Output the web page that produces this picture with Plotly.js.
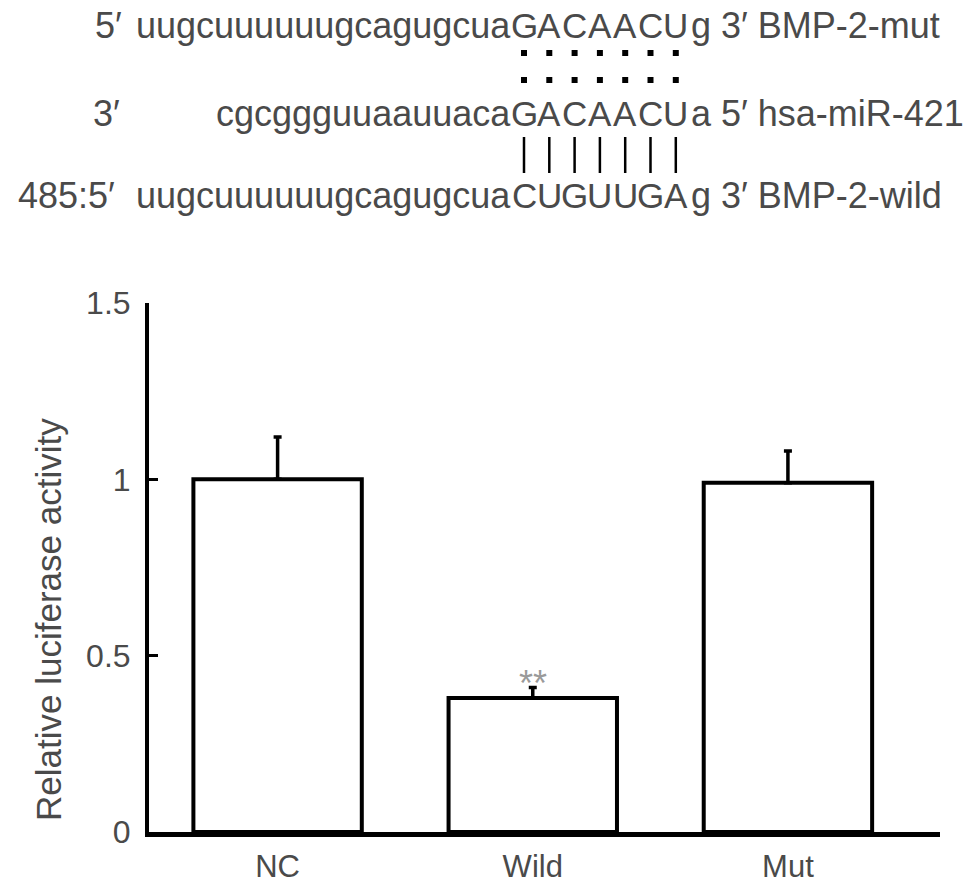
<!DOCTYPE html>
<html>
<head>
<meta charset="utf-8">
<script src="https://cdn.plot.ly/plotly-3.0.1.min.js"></script>
<style>html,body{margin:0;padding:0;background:#fff;}#chart{width:969px;height:893px;}</style>
</head>
<body>
<div id="chart"></div>
<script>
// ---- data ----
const categories = ['NC', 'Wild', 'Mut'];
const values = [1.0, 0.38, 0.99];
const errors = [0.12, 0.03, 0.09];
const yTickVals = [0, 0.5, 1, 1.5];
const yTickText = ['0', '0.5', '1', '1.5'];
const sigLabels = ['', '**', ''];
const yTitle = 'Relative luciferase activity';

// sequence rows: prefix label, left part, aligned core letters, right part
const rowPrefix = ['5′', '3′', '485:5′'];
const rowLeft = ['uugcuuuuuugcagugcua', 'cgcggguuaauuaca', 'uugcuuuuuugcagugcua'];
const rowCore = ['GACAACU', 'GACAACU', 'CUGUUGA'];
const rowRight = ['g 3′ BMP-2-mut', 'a 5′ hsa-miR-421', 'g 3′ BMP-2-wild'];

// ---- layout geometry (pixels) ----
const W = 969, H = 893;
const L = 149, R = 940, T = 303, B = 832;
const px = x => (x - L) / (R - L);
const py = y => (B - y) / (B - T);

const FONT = '"Liberation Sans", Arial, Helvetica, sans-serif';
const TXT = '#4a4a4a';
const seqSize = 36;
const coreSize = 35;

const rowY = [25, 114, 195];
const prefixX = [95, 93, 66];
const prefixAnchor = ['left', 'left', 'center'];
const leftEndX = 511;
const rightStartX = 691;
const dotX0 = 524, dotDX = 25.3;

const annotations = [];
const shapes = [];
const txtAnn = (x, y, text, anchor, size, color) => ({
  xref:'paper', yref:'paper', x: px(x), y: py(y), text: text, xanchor: anchor, yanchor:'middle',
  showarrow:false, borderpad:0, borderwidth:0, font:{family: FONT, size: size, color: color}
});

for (let r = 0; r < 3; r++) {
  annotations.push(txtAnn(prefixX[r], rowY[r], rowPrefix[r], prefixAnchor[r], seqSize, TXT));
  annotations.push(txtAnn(leftEndX, rowY[r], rowLeft[r], 'right', seqSize, TXT));
  rowCore[r].split('').forEach((ch, i) => {
    annotations.push(txtAnn(dotX0 + i * dotDX, rowY[r], ch, 'center', coreSize, TXT));
  });
  annotations.push(txtAnn(rightStartX, rowY[r], rowRight[r], 'left', seqSize, TXT));
}

// pairing marks
for (let i = 0; i < 7; i++) {
  const cx = dotX0 + i * dotDX;
  [53, 80].forEach(yy => {
    shapes.push({type:'rect', xref:'paper', yref:'paper', x0: px(cx - 3), x1: px(cx + 3), y0: py(yy + 3), y1: py(yy - 3),
      fillcolor:'#000', line:{width:0}});
  });
  shapes.push({type:'line', xref:'paper', yref:'paper', x0: px(cx), x1: px(cx), y0: py(173), y1: py(137),
    line:{color:'#000', width:2.5}});
}

// y-axis title (placed as annotation to match its offset)
const yt = txtAnn(48, 620, yTitle, 'center', 35, TXT);
yt.textangle = -90;
annotations.push(yt);

// significance label
categories.forEach((c, i) => {
  if (sigLabels[i]) {
    annotations.push({x: c, y: values[i] + errors[i], xref:'x', yref:'y', text: sigLabels[i], showarrow:false,
      yanchor:'middle', yshift: 4, font:{family:FONT, size:36, color:'#9a9a9a'}});
  }
});

const trace = {
  type: 'bar',
  x: categories,
  y: values,
  width: 0.66,
  marker: {color: '#ffffff', line: {color: '#000', width: 4}},
  error_y: {type: 'data', array: errors, arrayminus: errors.map(() => 0), symmetric: false,
    color: '#000', thickness: 3.5, width: 4},
  hoverinfo: 'none'
};

const layout = {
  width: W, height: H,
  margin: {l: L, r: W - R, t: T, b: H - B, pad: 0},
  paper_bgcolor: '#fff', plot_bgcolor: '#fff',
  showlegend: false,
  font: {family: FONT, color: TXT},
  xaxis: {
    range: [-0.504, 2.596], showline: true, linecolor: '#000', linewidth: 4.5,
    ticks: '', showgrid: false, zeroline: false, ticklabelstandoff: 3,
    tickfont: {family: FONT, size: 31, color: TXT}
  },
  yaxis: {
    range: [0, 1.5], showline: true, linecolor: '#000', linewidth: 4,
    ticks: 'inside', ticklen: 9, tickwidth: 3.5, tickcolor: '#000',
    tickvals: yTickVals, ticktext: yTickText, ticklabelstandoff: 8,
    showgrid: false, zeroline: false,
    tickfont: {family: FONT, size: 32, color: TXT}
  },
  annotations: annotations,
  shapes: shapes
};

Plotly.newPlot('chart', [trace], layout, {staticPlot: true, displayModeBar: false});
</script>
</body>
</html>
